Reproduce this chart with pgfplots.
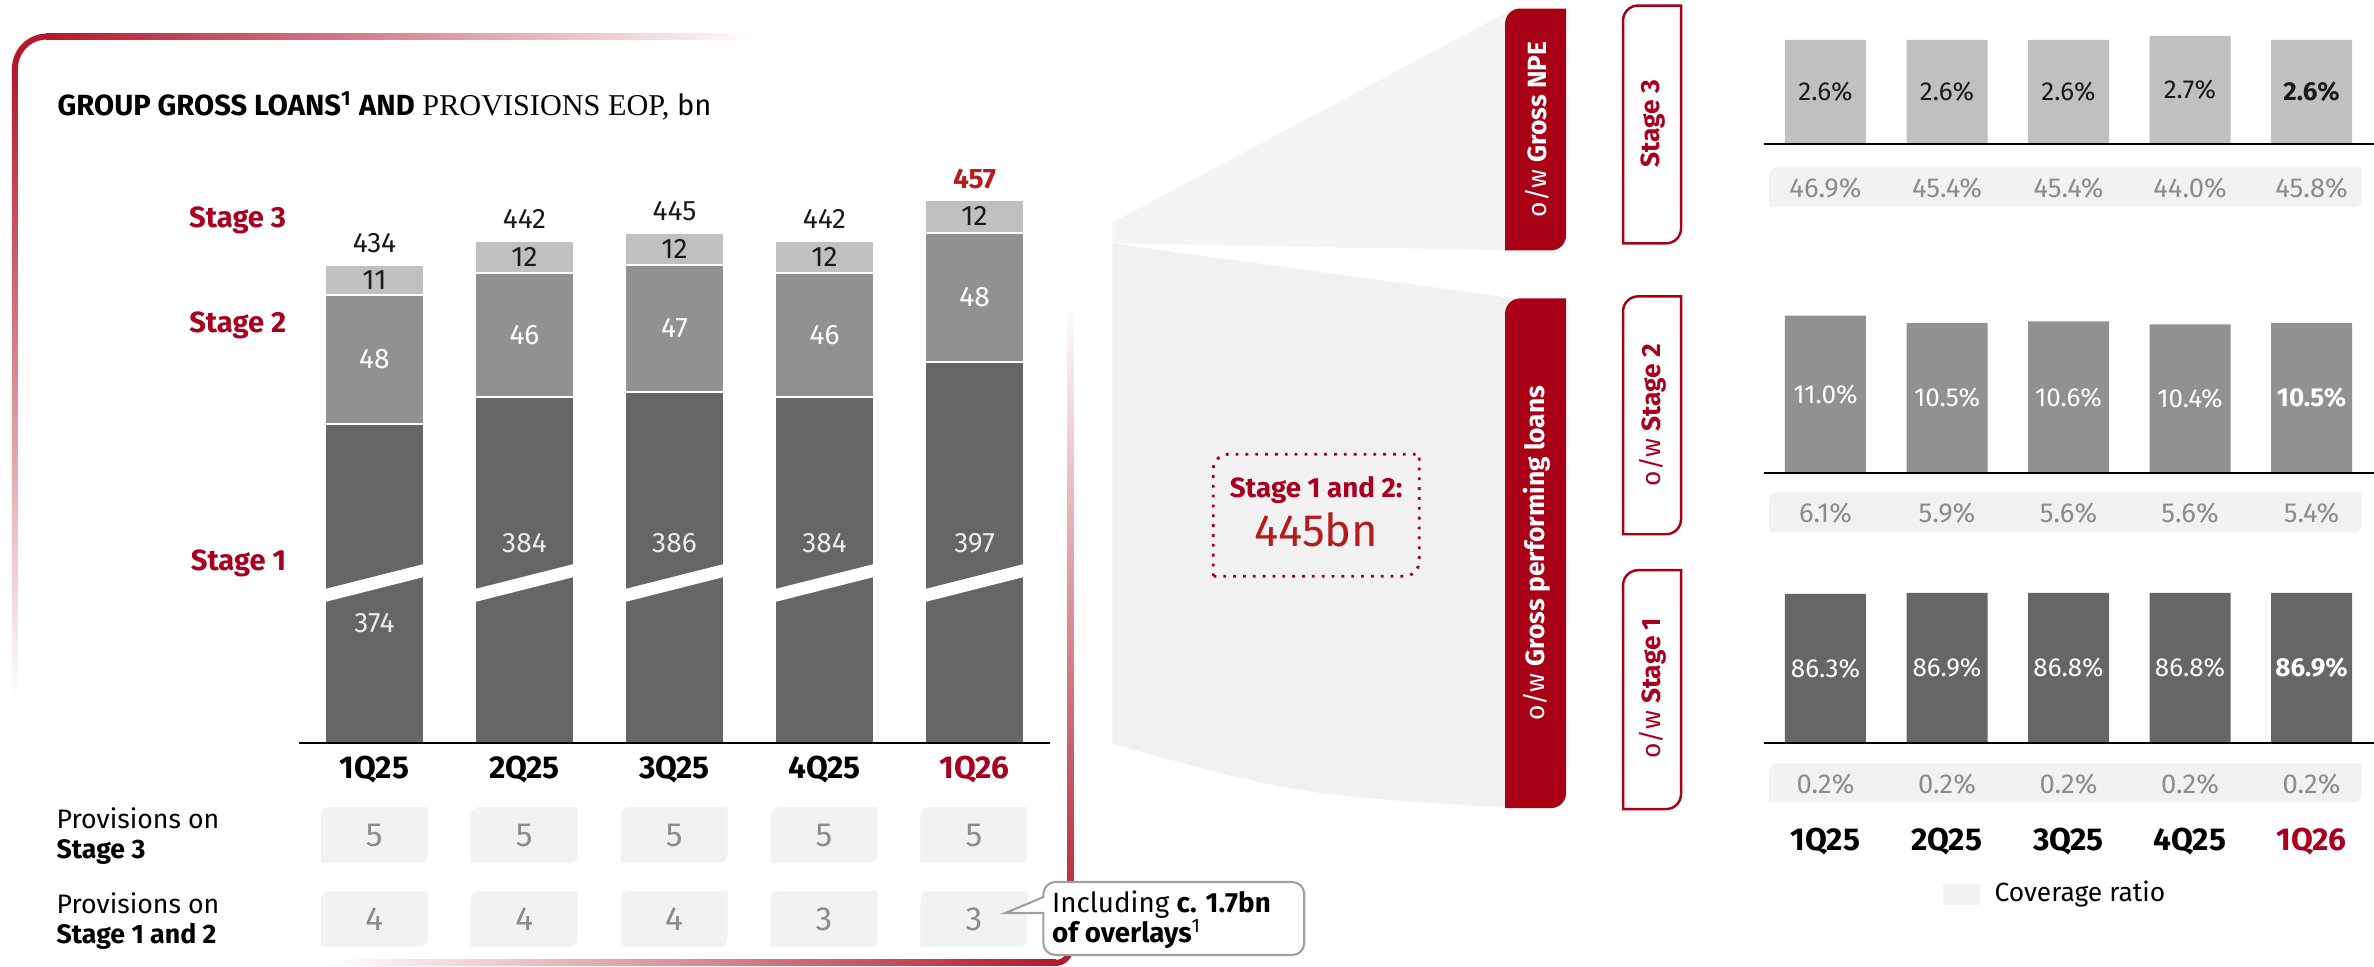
\documentclass[border=0pt]{standalone}
\usepackage{pgfplots}
\pgfplotsset{compat=1.18}
\usepackage{fontspec}
\setmainfont{Fira Sans}
\newfontfamily\titleserif{Liberation Serif}

\definecolor{sone}{HTML}{666666}
\definecolor{stwo}{HTML}{919191}
\definecolor{sthree}{HTML}{C0C0C0}
\definecolor{tabred}{RGB}{170,0,22}
\definecolor{labred}{RGB}{168,0,30}
\definecolor{numred}{RGB}{180,28,30}
\definecolor{framered}{RGB}{180,25,45}
\definecolor{panel}{HTML}{F2F2F2}
\definecolor{wedgeA}{HTML}{F4F4F4}
\definecolor{wedgeB}{HTML}{F1F1F1}
\definecolor{valgrey}{HTML}{8C8C8C}
\definecolor{ink}{HTML}{1A1A1A}
\definecolor{boxline}{HTML}{A0A0A0}

\newcommand\fs[1]{\fontsize{#1pt}{#1pt}\selectfont}
% box with rounded top-left and bottom-right corners (x1, top, x2, bottom, radius, style)
\newcommand\tabbox[6]{\path[#6] (#1,{967-#4}) -- (#1,{967-#2-#5})
  arc[start angle=180,end angle=90,radius=#5*0.01cm] -- (#3,{967-#2})
  -- (#3,{967-#4+#5}) arc[start angle=0,end angle=-90,radius=#5*0.01cm] -- cycle;}

\pgfplotsset{
  loanframe/.style={at={(2.99cm,2.24cm)}, anchor=south west, scale only axis,
    width=7.51cm, height=5.63cm,
    xmin=-0.503, xmax=4.503, ymin=256, ymax=464.5},
  rightpanel/.style={anchor=south west, scale only axis, width=6.10cm,
    xmin=-0.506, xmax=4.514, ymin=0,
    axis x line*=bottom, axis y line=none, xtick=\empty, ytick=\empty,
    clip=false, axis on top, x axis line style={line width=0.8pt,-}},
}
\tikzset{
  pct/.style={font=\fs{7.4}},
  cov/.style={font=\fs{7.8}, text=valgrey},
  cat/.style={font=\fs{9}\bfseries},
  seg/.style={font=\fs{8}},
}

\begin{document}
\begin{tikzpicture}
\useasboundingbox (0,0) rectangle (23.74cm,9.67cm);

% ---------------- background layer ----------------
\begin{scope}[x=0.01cm,y=0.01cm]
  % frame around the loans panel
  \shade[left color=framered, right color=white] (46,{967-39}) rectangle (760,{967-33});
  \draw[framered, line width=0.06cm] (15,{967-68}) arc[start angle=180,end angle=90,radius=0.32cm];
  \shade[top color=framered, bottom color=white] (12,{967-700}) rectangle (18,{967-67});
  \shade[top color=white, bottom color=framered] (1068,{967-300}) rectangle (1074,{967-949});
  \draw[framered, line width=0.06cm] (1071,{967-948}) arc[start angle=0,end angle=-90,radius=0.15cm];
  \shade[left color=white, right color=framered] (330,{967-966}) rectangle (1057,{967-960});

  % funnel towards the stage breakdown
  \fill[wedgeA] (1113,{967-222}) -- (1520,{967-5}) -- (1520,{967-250}) -- (1113,{967-243}) -- cycle;
  \fill[wedgeB] (1113,{967-243}) -- (1515,{967-298}) -- (1515,{967-808})
     .. controls (1300,{967-795}) .. (1113,{967-744}) -- cycle;

  % provisions boxes
  \foreach \i in {0,...,4}{
    \pgfmathsetmacro\xa{374.5+150*\i-53.5}
    \pgfmathsetmacro\xb{374.5+150*\i+53.5}
    \tabbox{\xa}{807}{\xb}{863}{8}{fill=panel}
    \tabbox{\xa}{891}{\xb}{947}{8}{fill=panel}
  }

  % coverage ratio strips
  \tabbox{1770}{167}{2363}{207}{8}{fill=panel}
  \tabbox{1770}{492}{2363}{532}{8}{fill=panel}
  \tabbox{1770}{763}{2363}{802}{8}{fill=panel}

  % performing loans total
  \tabbox{1214}{454}{1420}{576}{15}{fill=panel, draw=labred, dotted, line width=0.8pt}
\end{scope}

% ---------------- gross loans by stage ----------------
\begin{axis}[
  loanframe,
  ybar stacked, bar width=0.99cm,
  axis x line*=bottom, axis y line=none,
  x axis line style={line width=0.8pt,-},
  xtick=\empty, ytick=\empty,
  axis on top,
]
\addplot[fill=sone, draw=white, line width=0.6pt] coordinates {(0,374)(1,384)(2,386)(3,384)(4,397)};
\addplot[fill=stwo, draw=white, line width=0.6pt] coordinates {(0,48)(1,46)(2,47)(3,46)(4,48)};
\addplot[fill=sthree, draw=white, line width=0.6pt] coordinates {(0,11)(1,12)(2,12)(3,12)(4,12)};
\end{axis}

% labels and axis break drawn over the stacked bars
\begin{axis}[loanframe, hide axis, clip=false]
\foreach \i in {0,...,4}{
  \edef\tmp{\noexpand\fill[white] (axis cs:\i-0.36,307.8) -- (axis cs:\i+0.36,317.9)
     -- (axis cs:\i+0.36,322.7) -- (axis cs:\i-0.36,312.6) -- cycle;}\tmp
}
% Stage 3 values
\node[seg, text=ink] at (axis cs:0,427.5) {11};
\node[seg, text=ink] at (axis cs:1,436) {12};
\node[seg, text=ink] at (axis cs:2,439) {12};
\node[seg, text=ink] at (axis cs:3,436) {12};
\node[seg, text=ink] at (axis cs:4,451) {12};
% Stage 2 values
\node[seg, text=white] at (axis cs:0,398) {48};
\node[seg, text=white] at (axis cs:1,407) {46};
\node[seg, text=white] at (axis cs:2,409.5) {47};
\node[seg, text=white] at (axis cs:3,407) {46};
\node[seg, text=white] at (axis cs:4,421) {48};
% Stage 1 values
\node[seg, text=white!92!black] at (axis cs:0,300.4) {374};
\node[seg, text=white!92!black] at (axis cs:1,330) {384};
\node[seg, text=white!92!black] at (axis cs:2,330) {386};
\node[seg, text=white!92!black] at (axis cs:3,330) {384};
\node[seg, text=white!92!black] at (axis cs:4,330) {397};
% totals
\node[seg, text=ink] at (axis cs:0,441) {434};
\node[seg, text=ink] at (axis cs:1,450) {442};
\node[seg, text=ink] at (axis cs:2,453) {445};
\node[seg, text=ink] at (axis cs:3,450) {442};
\node[font=\fs{8}\bfseries, text=numred] at (axis cs:4,465) {457};
% quarters
\node[cat, yshift=-0.27cm] at (axis cs:0,256) {1Q25};
\node[cat, yshift=-0.27cm] at (axis cs:1,256) {2Q25};
\node[cat, yshift=-0.27cm] at (axis cs:2,256) {3Q25};
\node[cat, yshift=-0.27cm] at (axis cs:3,256) {4Q25};
\node[cat, yshift=-0.27cm, text=labred] at (axis cs:4,256) {1Q26};
\end{axis}

% ---------------- Stage 3 share of gross loans ----------------
\begin{axis}[rightpanel, at={(17.64cm,8.23cm)}, height=1.40cm, ymax=3.5]
\addplot[ybar, bar width=0.81cm, fill=sthree, draw=none] coordinates {(0,2.6)(1,2.6)(2,2.6)(3,2.7)(4,2.6)};
\node[pct, text=ink] at (axis cs:0,1.3) {2.6\%};
\node[pct, text=ink] at (axis cs:1,1.3) {2.6\%};
\node[pct, text=ink] at (axis cs:2,1.3) {2.6\%};
\node[pct, text=ink] at (axis cs:3,1.35) {2.7\%};
\node[pct, text=ink, font=\fs{7.4}\bfseries] at (axis cs:4,1.3) {2.6\%};
\node[cov, yshift=-0.44cm] at (axis cs:0,0) {46.9\%};
\node[cov, yshift=-0.44cm] at (axis cs:1,0) {45.4\%};
\node[cov, yshift=-0.44cm] at (axis cs:2,0) {45.4\%};
\node[cov, yshift=-0.44cm] at (axis cs:3,0) {44.0\%};
\node[cov, yshift=-0.44cm] at (axis cs:4,0) {45.8\%};
\end{axis}

% ---------------- Stage 2 share ----------------
\begin{axis}[rightpanel, at={(17.64cm,4.94cm)}, height=1.716cm, ymax=12]
\addplot[ybar, bar width=0.81cm, fill=stwo, draw=none] coordinates {(0,11.0)(1,10.5)(2,10.6)(3,10.4)(4,10.5)};
\node[pct, text=white] at (axis cs:0,5.5) {11.0\%};
\node[pct, text=white] at (axis cs:1,5.25) {10.5\%};
\node[pct, text=white] at (axis cs:2,5.3) {10.6\%};
\node[pct, text=white] at (axis cs:3,5.2) {10.4\%};
\node[pct, text=white, font=\fs{7.4}\bfseries] at (axis cs:4,5.25) {10.5\%};
\node[cov, yshift=-0.40cm] at (axis cs:0,0) {6.1\%};
\node[cov, yshift=-0.40cm] at (axis cs:1,0) {5.9\%};
\node[cov, yshift=-0.40cm] at (axis cs:2,0) {5.6\%};
\node[cov, yshift=-0.40cm] at (axis cs:3,0) {5.6\%};
\node[cov, yshift=-0.40cm] at (axis cs:4,0) {5.4\%};
\end{axis}

% ---------------- Stage 1 share ----------------
\begin{axis}[rightpanel, at={(17.64cm,2.24cm)}, height=1.728cm, ymax=100]
\addplot[ybar, bar width=0.81cm, fill=sone, draw=none] coordinates {(0,86.3)(1,86.9)(2,86.8)(3,86.8)(4,86.9)};
\node[pct, text=white] at (axis cs:0,43.2) {86.3\%};
\node[pct, text=white] at (axis cs:1,43.5) {86.9\%};
\node[pct, text=white] at (axis cs:2,43.4) {86.8\%};
\node[pct, text=white] at (axis cs:3,43.4) {86.8\%};
\node[pct, text=white, font=\fs{7.4}\bfseries] at (axis cs:4,43.5) {86.9\%};
\node[cov, yshift=-0.41cm] at (axis cs:0,0) {0.2\%};
\node[cov, yshift=-0.41cm] at (axis cs:1,0) {0.2\%};
\node[cov, yshift=-0.41cm] at (axis cs:2,0) {0.2\%};
\node[cov, yshift=-0.41cm] at (axis cs:3,0) {0.2\%};
\node[cov, yshift=-0.41cm] at (axis cs:4,0) {0.2\%};
\node[cat, yshift=-0.99cm] at (axis cs:0,0) {1Q25};
\node[cat, yshift=-0.99cm] at (axis cs:1,0) {2Q25};
\node[cat, yshift=-0.99cm] at (axis cs:2,0) {3Q25};
\node[cat, yshift=-0.99cm] at (axis cs:3,0) {4Q25};
\node[cat, yshift=-0.99cm, text=labred] at (axis cs:4,0) {1Q26};
\end{axis}

% ---------------- foreground layer ----------------
\begin{scope}[x=0.01cm,y=0.01cm]
  % title
  \node[anchor=base west, inner sep=0] at (57,{967-115})
    {\fs{8.3}\textbf{GROUP GROSS LOANS\textsuperscript{1} AND} {\titleserif\fs{8.6}PROVISIONS EOP,} bn};

  % stage labels
  \node[anchor=east, inner sep=0, text=labred, font=\fs{8.3}\bfseries] at (287,{967-220}) {Stage 3};
  \node[anchor=east, inner sep=0, text=labred, font=\fs{8.3}\bfseries] at (287,{967-325}) {Stage 2};
  \node[anchor=east, inner sep=0, text=labred, font=\fs{8.3}\bfseries] at (287,{967-563}) {Stage 1};

  % provisions rows
  \node[anchor=base west, inner sep=0, font=\fs{7.6}] at (56,{967-828}) {Provisions on};
  \node[anchor=base west, inner sep=0, font=\fs{7.6}\bfseries] at (56,{967-858}) {Stage 3};
  \node[anchor=base west, inner sep=0, font=\fs{7.6}] at (56,{967-913}) {Provisions on};
  \node[anchor=base west, inner sep=0, font=\fs{7.6}\bfseries] at (56,{967-943}) {Stage 1 and 2};
  \foreach \i/\a/\b in {0/5/4,1/5/4,2/5/4,3/5/3,4/5/3}{
    \node[text=valgrey, font=\fs{9.5}] at ({374.5+150*\i},{967-835}) {\a};
    \node[text=valgrey, font=\fs{9.5}] at ({374.5+150*\i},{967-919}) {\b};
  }

  % overlays callout
  \path[draw=boxline, line width=0.6pt, fill=white]
    (1044,{967-897}) -- (1044,{967-894}) arc[start angle=180,end angle=90,radius=0.12cm]
    -- (1293,{967-882}) arc[start angle=90,end angle=0,radius=0.12cm]
    -- (1305,{967-943}) arc[start angle=0,end angle=-90,radius=0.12cm]
    -- (1056,{967-955}) arc[start angle=-90,end angle=-180,radius=0.12cm]
    -- (1044,{967-913}) -- (1006,{967-913}) -- cycle;
  \node[anchor=base west, inner sep=0, font=\fs{7.9}] at (1052,{967-912}) {Including \textbf{c. 1.7bn}};
  \node[anchor=base west, inner sep=0, font=\fs{7.9}] at (1052,{967-942}) {\textbf{of overlays}\textsuperscript{1}};

  % performing loans box text
  \node[text=labred, font=\fs{7.9}\bfseries] at (1317,{967-490}) {Stage 1 and 2:};
  \node[text=numred, font=\fs{12.9}] at (1317,{967-530}) {445bn};

  % red tabs
  \tabbox{1506}{8}{1567}{250}{15}{fill=tabred}
  \tabbox{1506}{298}{1567}{808}{15}{fill=tabred}
  \node[rotate=90, text=white, font=\fs{7.5}] at (1538,{967-129}) {o/w \textbf{Gross NPE}};
  \node[rotate=90, text=white, font=\fs{7.5}] at (1538,{967-553}) {o/w \textbf{Gross performing loans}};

  % outlined tabs
  \tabbox{1624}{5}{1682}{243}{15}{draw=tabred, line width=0.7pt, fill=white}
  \tabbox{1624}{296}{1682}{534}{15}{draw=tabred, line width=0.7pt, fill=white}
  \tabbox{1624}{570}{1682}{809}{15}{draw=tabred, line width=0.7pt, fill=white}
  \node[rotate=90, text=labred, font=\fs{7.5}\bfseries] at (1654,{967-123}) {Stage 3};
  \node[rotate=90, text=labred, font=\fs{7.5}] at (1654,{967-415}) {o/w \textbf{Stage 2}};
  \node[rotate=90, text=labred, font=\fs{7.5}] at (1654,{967-688}) {o/w \textbf{Stage 1}};

  % legend
  \fill[panel] (1944,{967-905}) rectangle (1981,{967-884});
  \node[anchor=west, inner sep=0, font=\fs{7.5}] at (1995,{967-894}) {Coverage ratio};
\end{scope}
\end{tikzpicture}
\end{document}
